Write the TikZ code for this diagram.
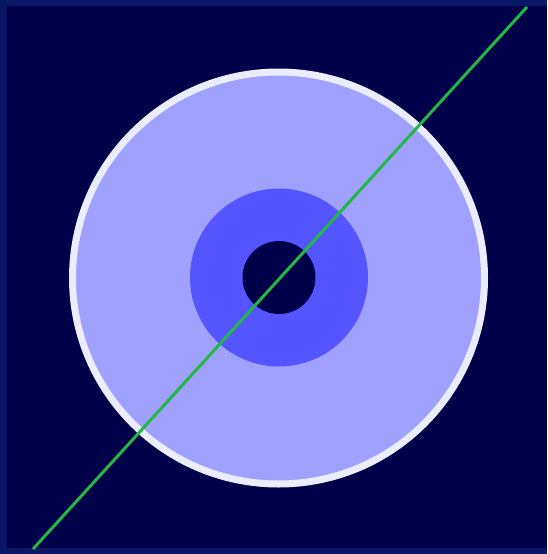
\documentclass[tikz,border=0pt]{standalone}
\usepackage{xcolor}
\usepackage{tikz}
\definecolor{rimnavy}{HTML}{0A1766}
\definecolor{deepnavy}{HTML}{00004A}
\definecolor{discpale}{HTML}{A0A0FF}
\definecolor{discrim}{HTML}{ECECFF}
\definecolor{ringblue}{HTML}{5555FF}
\definecolor{cutgreen}{HTML}{22B844}

\begin{document}
\begin{tikzpicture}[x=1pt, y=-1pt,
      disc/.style={circle, inner sep=0pt, outer sep=0pt},
      cut/.style={cutgreen, line width=3pt}]
    \fill[rimnavy] (0,0) rectangle (547,554);
    \fill[deepnavy] (7,6) rectangle (547,548);
    \useasboundingbox (0,0) rectangle (547,554);
    \node[disc, draw=discrim, line width=7pt, fill=discpale, minimum size=412pt] (outer) at (278.5,278) {};
    \node[disc, fill=ringblue, minimum size=178pt] (ring) at (279,277.5) {};
    \node[disc, fill=deepnavy, minimum size=73pt] (hole) at (279,277.5) {};
    \coordinate (low) at (33,549);
    \coordinate (high) at (527,7);
    \draw[cut] (low) -- (high);
  \end{tikzpicture}
\end{document}
